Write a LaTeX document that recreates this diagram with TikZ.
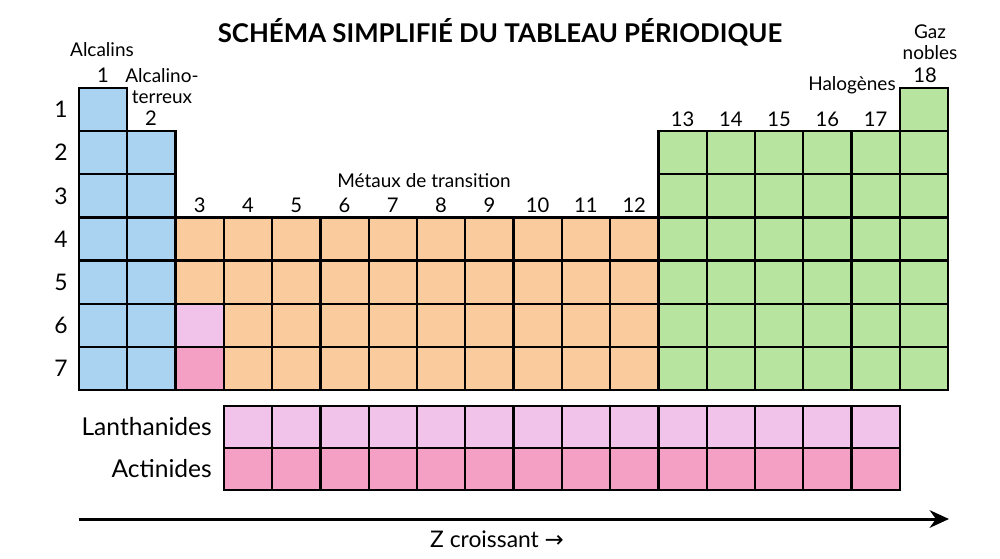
\documentclass[tikz,border=0pt]{standalone}
\usepackage{fontspec}
\setmainfont{Lato}
\newfontfamily\symfont{DejaVu Sans}
\usetikzlibrary{arrows.meta}
\definecolor{alkblue}{HTML}{A9D3F1}
\definecolor{tmorange}{HTML}{F9CB9D}
\definecolor{pgreen}{HTML}{B7E59F}
\definecolor{lanpink}{HTML}{F2C3EA}
\definecolor{actpink}{HTML}{F4A0C5}
\tikzset{
    cell/.style={draw=black,line width=1.3pt},
    grp/.style={font=\fontsize{11.5}{13}\selectfont},
    per/.style={font=\fontsize{13}{15}\selectfont},
    lbl/.style={font=\fontsize{10.8}{12}\selectfont,align=center,inner sep=1pt},
}
\newcommand{\cw}{48.28}
\newcommand{\ch}{43.14}
\begin{document}
\begin{tikzpicture}[x=0.02cm,y=-0.02cm]
            \useasboundingbox (0,0) rectangle (1000,558);
            % main block
            \foreach \c/\r/\col in {1/1/alkblue,18/1/pgreen} {
                \draw[cell,fill=\col] ({79+(\c-1)*\cw},{88+(\r-1)*\ch}) rectangle ++(\cw,\ch);
            }
            \foreach \r in {2,...,7} {
                \foreach \c in {1,2} {
                    \draw[cell,fill=alkblue] ({79+(\c-1)*\cw},{88+(\r-1)*\ch}) rectangle ++(\cw,\ch);
                }
                \foreach \c in {13,...,18} {
                    \draw[cell,fill=pgreen] ({79+(\c-1)*\cw},{88+(\r-1)*\ch}) rectangle ++(\cw,\ch);
                }
            }
            \foreach \r in {4,...,7} {
                \foreach \c in {3,...,12} {
                    \draw[cell,fill=tmorange] ({79+(\c-1)*\cw},{88+(\r-1)*\ch}) rectangle ++(\cw,\ch);
                }
            }
            \draw[cell,fill=lanpink] ({79+2*\cw},{88+5*\ch}) rectangle ++(\cw,\ch);
            \draw[cell,fill=actpink] ({79+2*\cw},{88+6*\ch}) rectangle ++(\cw,\ch);
            % f block
            \foreach \c in {4,...,17} {
                \draw[cell,fill=lanpink] ({79+(\c-1)*\cw},406) rectangle ++(\cw,42);
                \draw[cell,fill=actpink] ({79+(\c-1)*\cw},448) rectangle ++(\cw,42);
            }
            % numbers
            \foreach \r in {1,...,7} {
                \node[per] at (61,{88+(\r-0.5)*\ch}) (p\r) {\r};
            }
            \node[grp] at (103,75) (g1) {1};
            \node[grp] at (151,118) (g2) {2};
            \foreach \c in {3,...,12} {
                \node[grp] at ({79+(\c-0.5)*\cw},205) (g\c) {\c};
            }
            \foreach \c in {13,...,17} {
                \node[grp] at ({79+(\c-0.5)*\cw},119) (g\c) {\c};
            }
            \node[grp] at (925,75) (g18) {18};
            % labels
            \node[font=\bfseries\fontsize{14.7}{17}\selectfont] at (500,32) (title) {SCHÉMA SIMPLIFIÉ DU TABLEAU PÉRIODIQUE};
            \node[lbl] at (102,50) (alc) {Alcalins};
            \node[lbl] at (162,86) (alt) {Alcalino-\\terreux};
            \node[lbl] at (424,181) (met) {Métaux de transition};
            \node[lbl] at (852,85) (hal) {Halogènes};
            \node[lbl] at (930,42) (gaz) {Gaz\\nobles};
            \node[per,font=\fontsize{14}{16}\selectfont,anchor=east] at (218,427) (lan) {Lanthanides};
            \node[per,font=\fontsize{14}{16}\selectfont,anchor=east] at (218,469) (act) {Actinides};
            % Z axis
            \coordinate (zs) at (79,519);
            \coordinate (ze) at (949,519);
            \draw[line width=1.7pt,-{Stealth[length=11pt,width=10pt]}] (zs) -- (ze);
            \node[per] at (497,539) (z) {Z croissant {\symfont →}};
        \end{tikzpicture}
\end{document}
